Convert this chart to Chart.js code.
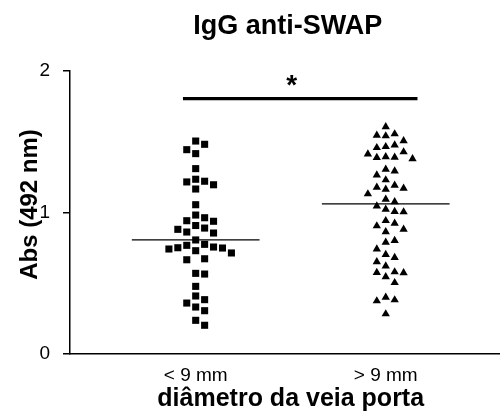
<!DOCTYPE html>
<html>
<head>
<meta charset="utf-8">
<title>IgG anti-SWAP</title>
<script src="https://cdn.jsdelivr.net/npm/chart.js@4.4.1/dist/chart.umd.min.js"></script>
<style>
  html, body { margin: 0; padding: 0; background: #fff; }
  #wrap { width: 504px; height: 417px; }
</style>
</head>
<body>
<div id="wrap"><canvas id="chart"></canvas></div>
<script>
const groups = ['< 9 mm', '> 9 mm'];

// Abs (492 nm) per patient, by portal vein diameter
const lessThan9 = [
  1.505, 1.482, 1.444, 1.416, 1.310, 1.235, 1.221, 1.216, 1.196, 1.166,
  1.055, 0.982, 0.963, 0.942, 0.938, 0.908, 0.855, 0.881, 0.890, 0.862,
  0.806, 0.775, 0.756, 0.742, 0.730, 0.749, 0.714, 0.751, 0.768, 0.673,
  0.666, 0.565, 0.570, 0.478, 0.384, 0.410, 0.360, 0.332, 0.306, 0.238,
  0.203
];
const moreThan9 = [
  1.606, 1.555, 1.541, 1.546, 1.507, 1.465, 1.458, 1.477, 1.413, 1.394,
  1.380, 1.390, 1.388, 1.428, 1.293, 1.265, 1.305, 1.230, 1.178, 1.164,
  1.171, 1.131, 1.192, 1.093, 1.075, 1.046, 1.004, 1.006, 1.023, 0.942,
  0.905, 0.924, 0.864, 0.881, 0.789, 0.801, 0.742, 0.702, 0.681, 0.652,
  0.622, 0.575, 0.573, 0.580, 0.546, 0.504, 0.382, 0.375, 0.401, 0.283
];
const yTicks = [0, 1, 2];
const sigLevel = 1.805;
const sigLabel = '*';

const FONT = "'Liberation Sans', Arial, Helvetica, sans-serif";
const STEP = 0.047;   // horizontal distance between neighbouring symbols
const GAP = 0.065;    // closer values than this would overlap
const HALF = 0.336;   // half length of the median bar

// spread points sideways so symbols don't sit on top of each other
function swarm(values, center) {
  const placed = [];
  const out = new Array(values.length);
  const order = values.map((v, i) => i).sort((a, b) => values[b] - values[a]);
  order.forEach(i => {
    const v = values[i];
    for (let n = 0; ; n++) {
      const k = n === 0 ? 0 : (n % 2 ? (n + 1) / 2 : -n / 2);
      if (!placed.some(p => p.k === k && Math.abs(p.v - v) < GAP)) {
        placed.push({ k, v });
        out[i] = { x: center + k * STEP, y: v };
        break;
      }
    }
  });
  return out;
}

function median(values) {
  const s = [...values].sort((a, b) => a - b);
  const m = Math.floor(s.length / 2);
  return s.length % 2 ? s[m] : (s[m - 1] + s[m]) / 2;
}

function medianLine(values, center) {
  const m = median(values);
  return {
    type: 'line',
    data: [{ x: center - HALF, y: m }, { x: center + HALF, y: m }],
    borderColor: '#000',
    borderWidth: 1.3,
    pointRadius: 0
  };
}

const extras = {
  id: 'extras',
  afterDraw(chart) {
    const { ctx, chartArea, scales: { x, y } } = chart;
    const g1 = x.getPixelForValue(1);
    const g2 = x.getPixelForValue(2);
    const mid = (g1 + g2) / 2;

    ctx.save();
    ctx.fillStyle = '#000';
    ctx.strokeStyle = '#000';

    // significance bar and star
    const sy = y.getPixelForValue(sigLevel);
    ctx.lineWidth = 3.3;
    ctx.beginPath();
    ctx.moveTo(x.getPixelForValue(0.933), sy);
    ctx.lineTo(x.getPixelForValue(2.167), sy);
    ctx.stroke();
    ctx.font = `bold 28px ${FONT}`;
    ctx.textAlign = 'center';
    ctx.textBaseline = 'alphabetic';
    ctx.fillText(sigLabel, mid + 1, sy - 5);

    // chart title
    ctx.font = `bold 27px ${FONT}`;
    ctx.fillText('IgG anti-SWAP', mid - 3, 34);

    // x axis title
    ctx.font = `bold 25px ${FONT}`;
    ctx.fillText('diâmetro da veia porta', mid, 406);

    // y axis title
    ctx.font = `bold 24px ${FONT}`;
    ctx.translate(30, (chartArea.top + chartArea.bottom) / 2 - 8);
    ctx.rotate(-Math.PI / 2);
    ctx.textBaseline = 'middle';
    ctx.fillText('Abs (492 nm)', 0, 0);
    ctx.restore();
  }
};

new Chart(document.getElementById('chart'), {
  type: 'scatter',
  data: {
    datasets: [
      {
        label: groups[0],
        data: swarm(lessThan9, 1),
        pointStyle: 'rect',
        pointRadius: 5,
        backgroundColor: '#000',
        borderWidth: 0
      },
      {
        label: groups[1],
        data: swarm(moreThan9, 2),
        pointStyle: 'triangle',
        pointRadius: 4.8,
        backgroundColor: '#000',
        borderWidth: 0
      },
      medianLine(lessThan9, 1),
      medianLine(moreThan9, 2)
    ]
  },
  options: {
    responsive: true,
    maintainAspectRatio: false,
    animation: false,
    layout: { padding: { top: 71, right: 4, left: 0, bottom: 0 } },
    plugins: {
      legend: { display: false },
      tooltip: { enabled: false }
    },
    scales: {
      x: {
        type: 'linear',
        min: 0.3386,
        max: 2.596,
        afterFit: scale => { scale.height = 63; },
        afterBuildTicks: scale => { scale.ticks = groups.map((g, i) => ({ value: i + 1 })); },
        ticks: {
          callback: v => groups[v - 1],
          color: '#000',
          font: { family: FONT, size: 19 },
          padding: 2,
          maxRotation: 0
        },
        grid: { display: false },
        border: { display: true, color: '#000', width: 1.5 }
      },
      y: {
        min: 0,
        max: 2,
        afterFit: scale => { scale.width = 70; },
        afterBuildTicks: scale => { scale.ticks = yTicks.map(v => ({ value: v })); },
        ticks: {
          color: '#000',
          font: { family: FONT, size: 19 },
          padding: 13
        },
        grid: {
          drawOnChartArea: false,
          drawTicks: true,
          tickLength: 7,
          color: '#000',
          lineWidth: 1.5
        },
        border: { display: true, color: '#000', width: 1.5 }
      }
    }
  },
  plugins: [extras]
});
</script>
</body>
</html>
